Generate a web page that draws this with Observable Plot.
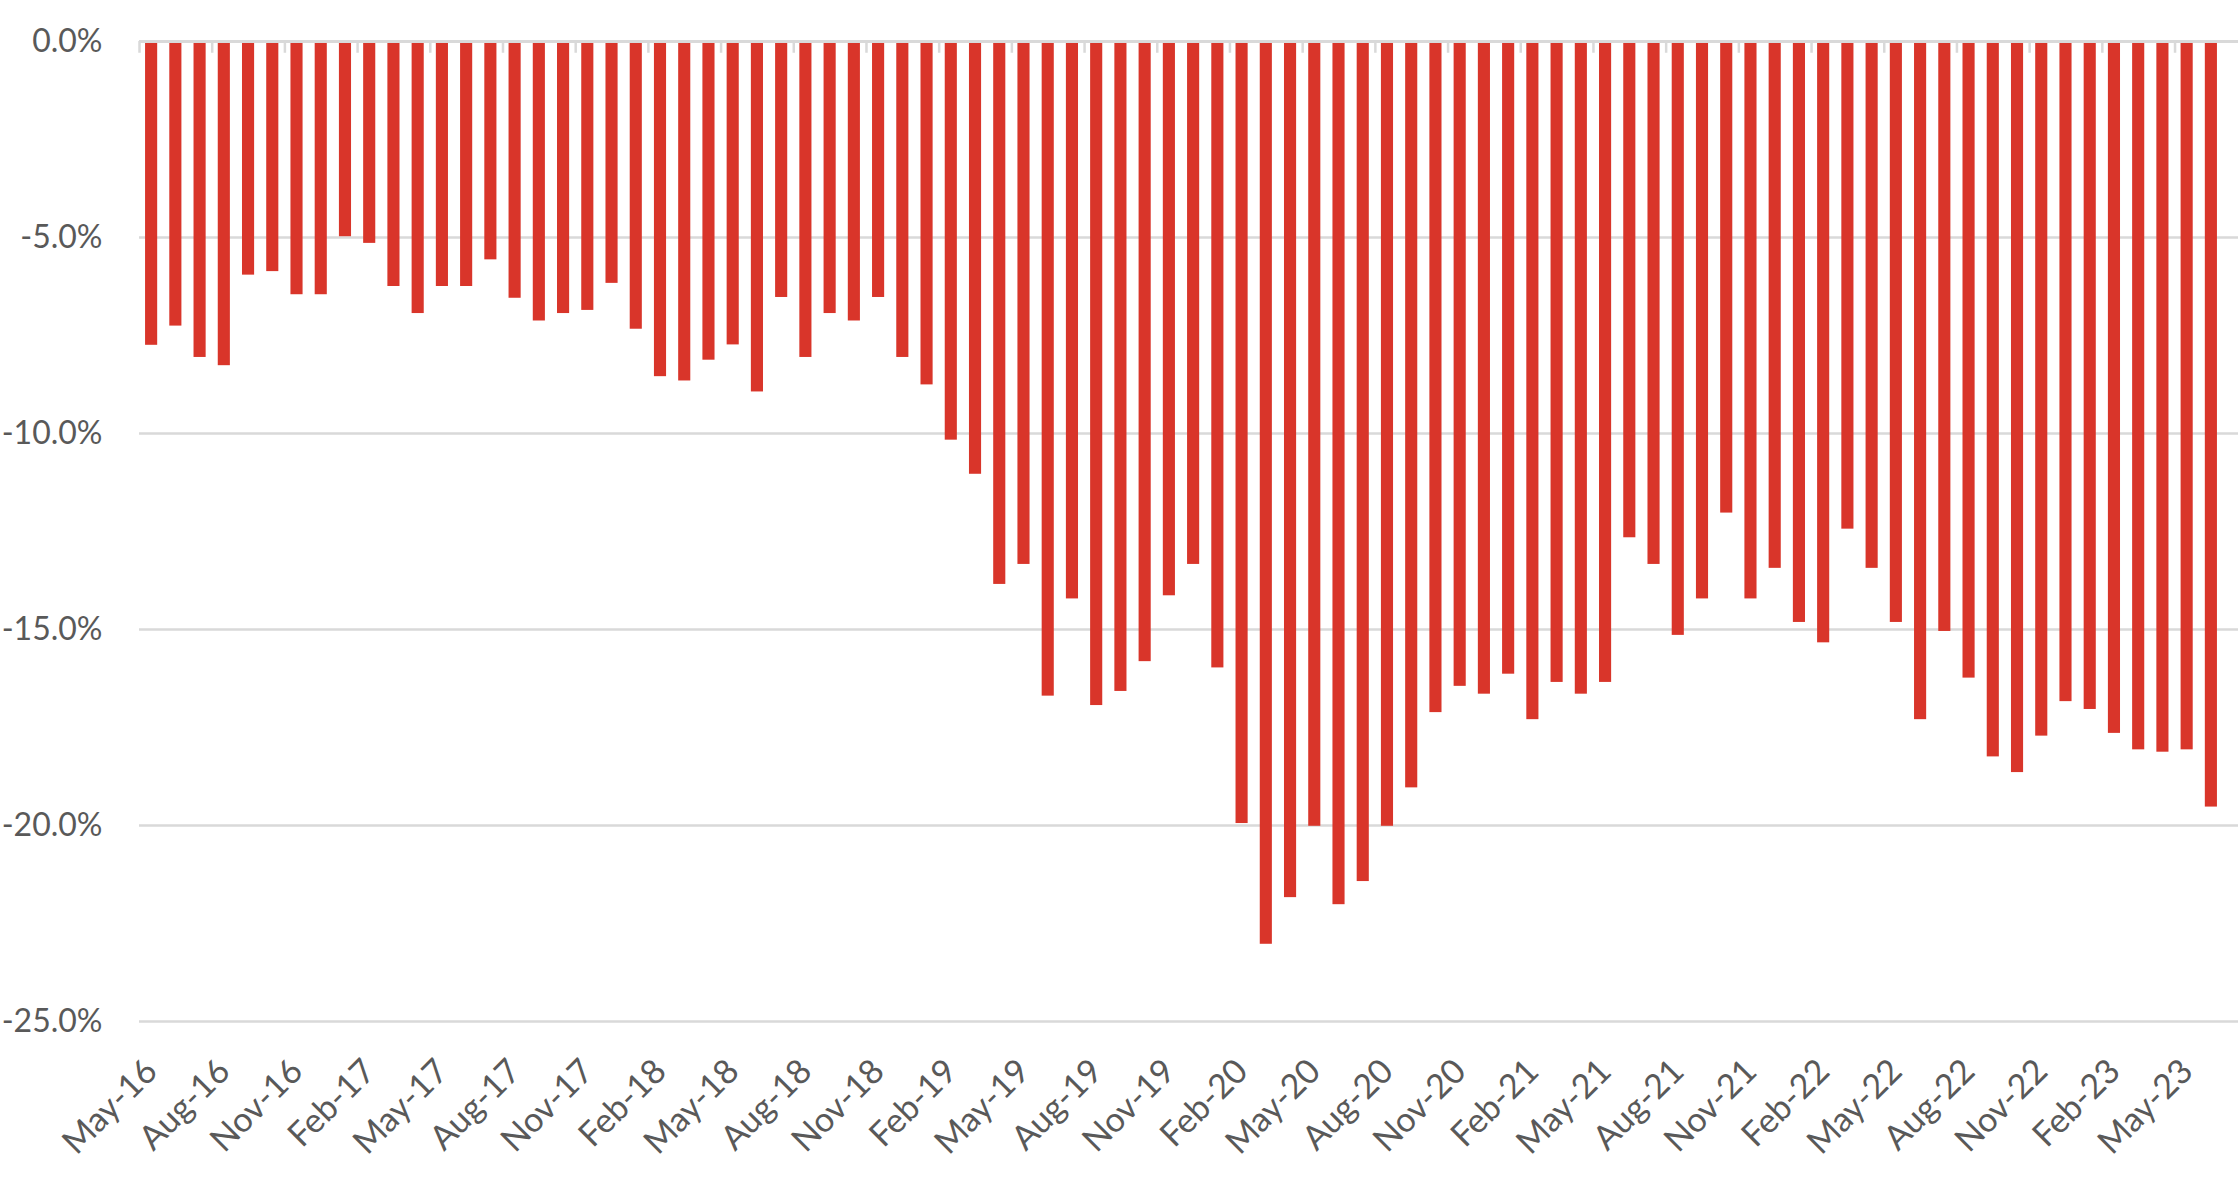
<!DOCTYPE html>
<html><head><meta charset="utf-8">
<script src="https://cdn.jsdelivr.net/npm/d3@7"></script>
<script src="https://cdn.jsdelivr.net/npm/@observablehq/plot@0.6"></script>
<style>html,body{margin:0;padding:0;background:#fff;overflow:hidden}</style>
</head><body><div id="chart"></div>
<script>
const months = [
  "May-16","Jun-16","Jul-16","Aug-16","Sep-16","Oct-16","Nov-16","Dec-16",
  "Jan-17","Feb-17","Mar-17","Apr-17","May-17","Jun-17","Jul-17","Aug-17","Sep-17","Oct-17","Nov-17","Dec-17",
  "Jan-18","Feb-18","Mar-18","Apr-18","May-18","Jun-18","Jul-18","Aug-18","Sep-18","Oct-18","Nov-18","Dec-18",
  "Jan-19","Feb-19","Mar-19","Apr-19","May-19","Jun-19","Jul-19","Aug-19","Sep-19","Oct-19","Nov-19","Dec-19",
  "Jan-20","Feb-20","Mar-20","Apr-20","May-20","Jun-20","Jul-20","Aug-20","Sep-20","Oct-20","Nov-20","Dec-20",
  "Jan-21","Feb-21","Mar-21","Apr-21","May-21","Jun-21","Jul-21","Aug-21","Sep-21","Oct-21","Nov-21","Dec-21",
  "Jan-22","Feb-22","Mar-22","Apr-22","May-22","Jun-22","Jul-22","Aug-22","Sep-22","Oct-22","Nov-22","Dec-22",
  "Jan-23","Feb-23","Mar-23","Apr-23","May-23","Jun-23"
];
const values = [
  -7.75,-7.26,-8.06,-8.27,-5.96,-5.87,-6.46,-6.46,
  -4.98,-5.15,-6.25,-6.94,-6.25,-6.25,-5.57,-6.55,-7.13,-6.94,-6.86,-6.17,
  -7.34,-8.55,-8.66,-8.13,-7.74,-8.94,-6.53,-8.06,-6.94,-7.13,-6.53,-8.06,
  -8.76,-10.17,-11.04,-13.85,-13.34,-16.70,-14.22,-16.94,-16.58,-15.82,-14.14,-13.34,
  -15.98,-19.95,-23.03,-21.84,-20.02,-22.02,-21.43,-20.02,-19.04,-17.12,-16.45,-16.65,
  -16.14,-17.30,-16.35,-16.65,-16.35,-12.66,-13.34,-15.15,-14.22,-12.03,-14.22,-13.44,
  -14.82,-15.34,-12.44,-13.44,-14.82,-17.30,-15.05,-16.24,-18.25,-18.65,-17.72,-16.84,
  -17.04,-17.65,-18.07,-18.13,-18.07,-19.53
];
const yTicks = [0, -5, -10, -15, -20, -25];
const xLabels = months.filter((m, i) => i % 3 === 0);

const data = months.map((m, i) => ({month: m, value: values[i]}));

const W = 2238, H = 1188, ml = 139, mr = 15, mt = 41, mb = 167;
const step = (W - ml - mr) / months.length;

const chart = Plot.plot({
  width: W, height: H,
  marginLeft: ml, marginRight: mr, marginTop: mt, marginBottom: mb,
  style: {fontFamily: "Lato, 'Open Sans', sans-serif", fontSize: "34px", color: "#595959", background: "#fff"},
  x: {type: "band", domain: months, paddingInner: 0.5, paddingOuter: 0.25, round: false, label: null},
  y: {domain: [-25, 0], label: null},
  marks: [
    Plot.ruleY(yTicks.filter(d => d !== 0), {stroke: "#d9d9d9", strokeWidth: 2.5, insetRight: -mr}),
    Plot.barY(data, {x: "month", y: "value", fill: "#d9352a"}),
    Plot.ruleY([0], {stroke: "#d9d9d9", strokeWidth: 3, insetRight: -mr}),
    Plot.ruleX(xLabels, {x: d => d, dx: -step / 2, y1: 0, y2: -0.3, stroke: "#d9d9d9", strokeWidth: 2.5}),
    Plot.axisY({ticks: yTicks, tickSize: 0, tickPadding: 37, fontSize: 32, label: null,
      tickFormat: d => (d === 0 ? "0.0" : d.toFixed(1)) + "%"}),
    Plot.axisX({ticks: xLabels, tickRotate: -45, tickSize: 0, tickPadding: 44, label: null})
  ]
});
document.getElementById("chart").appendChild(chart);
</script>
</body></html>
